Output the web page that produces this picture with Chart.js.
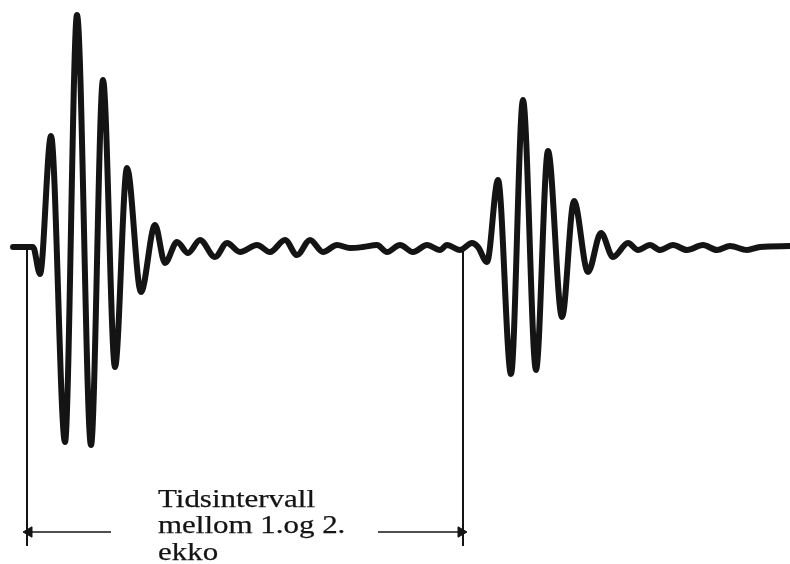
<!DOCTYPE html>
<html>
<head>
<meta charset="utf-8">
<script src="https://cdn.jsdelivr.net/npm/chart.js@4/dist/chart.umd.min.js"></script>
<style>
  html, body { margin: 0; padding: 0; background: #fff; }
  #wrap { width: 790px; height: 564px; }
</style>
</head>
<body>
<div id="wrap"><canvas id="echo" width="790" height="564"></canvas></div>
<script>
/* ============================================================
   Ultrasonic echo trace: two wave packets and the time interval
   ============================================================ */

// time (arbitrary units) and amplitude of the trace
const waveT = [
  13, 33, 40, 51, 65, 77, 91, 103, 115, 127, 141, 155, 165, 177, 188, 200, 215, 227, 240,
  257, 270, 285, 297, 310, 323, 337, 350, 363, 377, 387, 400, 413, 427, 440, 447, 460, 472,
  478, 487, 498, 511, 523, 536, 548, 562, 574, 588, 601, 613, 628, 638, 650, 660, 673, 687,
  703, 717, 730, 747, 760, 790
];
const waveAmp = [
  0, 0, -27, 111, -195, 232, -198, 167, -120, 79, -45, 22, -16, 5, -6, 7, -10, 4, -5,
  2, -5, 7, -8, 7, -5, 2, -1, 0, 2, -5, 2, -5, 2, -3, 2, -3, 4,
  0, -15, 67, -127, 147, -123, 96, -70, 46, -25, 14, -10, 4, -3, 2, -3, 2, -3,
  2, -3, 1, -3, 0, 1
];

// start of 1st echo and start of 2nd echo
const markerT = [27, 463];
const markerTop = [0, -3];
const markerBottom = -299;

// double arrow between the markers
const arrowAmp = -285;
const arrowLeft = [29, 111];
const arrowRight = [378, 461];

const labelLines = ['Tidsintervall', 'mellom 1.og 2.', 'ekko'];
const labelT = 158;
const labelAmp = [-260, -286, -313];

const INK = '#141414';

const markerSets = markerT.map((t, i) => ({
  data: [{ x: t, y: markerTop[i] }, { x: t, y: markerBottom }],
  borderColor: INK, borderWidth: 2, pointRadius: 0, tension: 0
}));

function arrowSet(xs, headAt, rot) {
  return {
    data: xs.map(x => ({ x, y: arrowAmp })),
    borderColor: INK, backgroundColor: INK, borderWidth: 1.5, tension: 0,
    pointStyle: 'triangle', pointRotation: rot,
    pointRadius: xs.map((x, i) => (i === headAt ? 6 : 0)),
    pointBorderWidth: 1
  };
}

const labelPlugin = {
  id: 'intervalLabel',
  afterDatasetsDraw(chart) {
    const { ctx, scales: { x, y } } = chart;
    ctx.save();
    ctx.fillStyle = INK;
    ctx.strokeStyle = INK;
    ctx.lineWidth = 0.25;
    ctx.font = '25px "Liberation Serif", serif';
    ctx.textBaseline = 'alphabetic';
    const stretch = 157 / ctx.measureText(labelLines[0]).width;
    labelLines.forEach((s, i) => {
      ctx.save();
      ctx.translate(x.getPixelForValue(labelT), y.getPixelForValue(labelAmp[i]));
      ctx.scale(stretch, 1);
      ctx.fillText(s, 0, 0);
      ctx.strokeText(s, 0, 0);
      ctx.restore();
    });
    ctx.restore();
  }
};

new Chart(document.getElementById('echo'), {
  type: 'line',
  data: {
    datasets: [
      { data: waveT.map((t, i) => ({ x: t, y: waveAmp[i] })),
        borderColor: INK, borderWidth: 6, pointRadius: 0,
        cubicInterpolationMode: 'monotone', borderCapStyle: 'round', borderJoinStyle: 'round' },
      ...markerSets,
      arrowSet(arrowLeft, 0, -90),
      arrowSet(arrowRight, 1, 90)
    ]
  },
  options: {
    responsive: false, animation: false,
    layout: { padding: 0, autoPadding: false },
    plugins: { legend: { display: false }, tooltip: { enabled: false } },
    scales: {
      x: { type: 'linear', min: 0, max: 790, display: false },
      y: { type: 'linear', min: -317, max: 247, display: false }
    }
  },
  plugins: [labelPlugin]
});
</script>
</body>
</html>
